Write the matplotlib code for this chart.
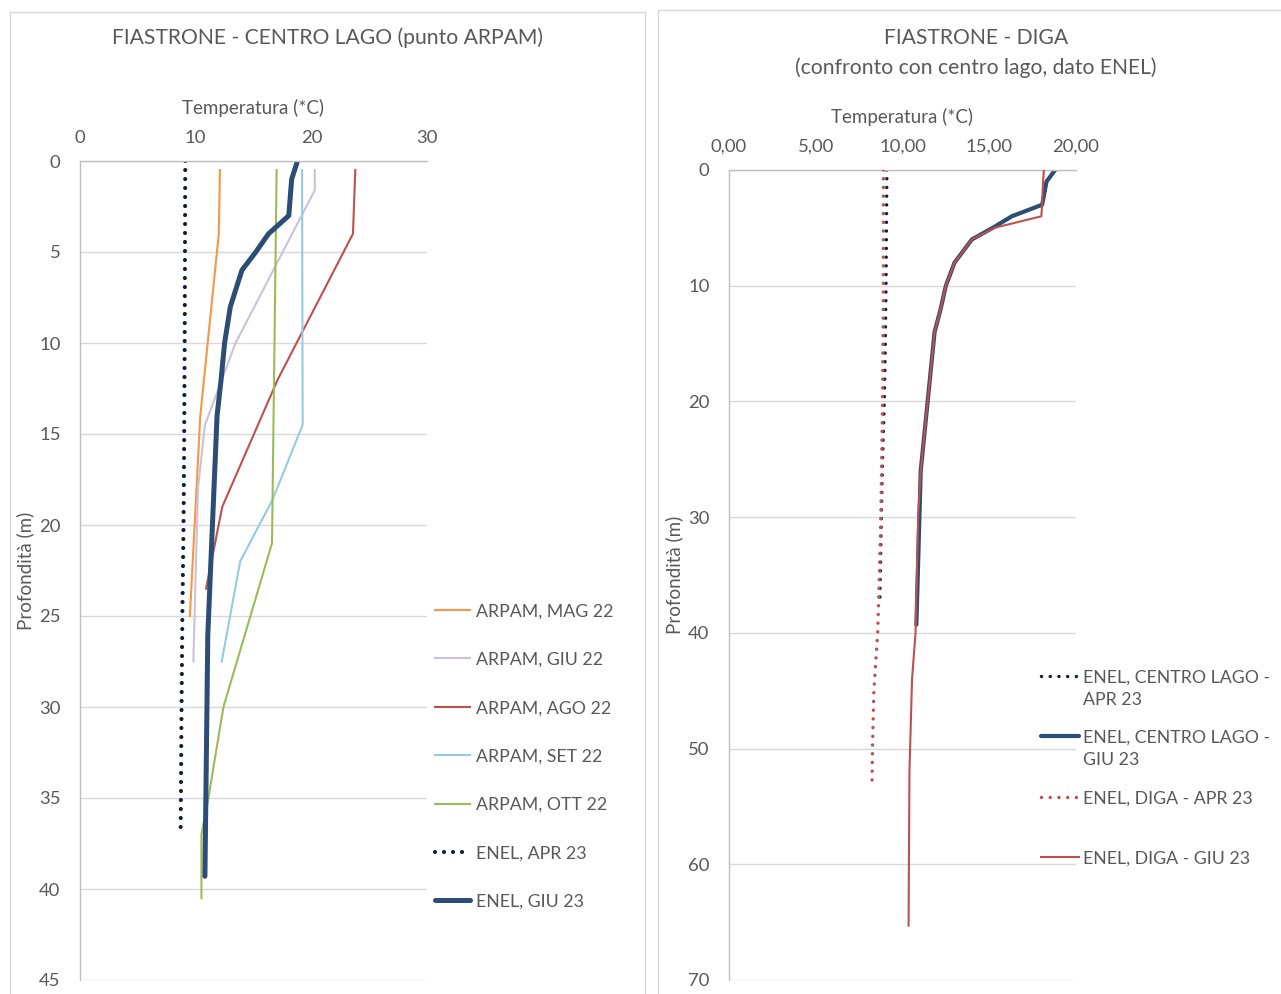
import matplotlib
matplotlib.use("Agg")
import matplotlib.pyplot as plt
from matplotlib.lines import Line2D
from matplotlib.patches import Rectangle

plt.rcParams['font.family'] = ['Lato', 'DejaVu Sans']

# ---------------- data: left panel (ARPAM + ENEL centro lago) ----------------
mag22_depth = [0.5, 4, 14, 25]
mag22_temp = [12.1, 12.0, 10.4, 9.5]

giu22_depth = [0.5, 1.6, 10, 14.5, 18, 27.5]
giu22_temp = [20.3, 20.3, 13.45, 10.8, 10.2, 9.8]

ago22_depth = [0.5, 4, 12, 19, 23.5]
ago22_temp = [23.8, 23.6, 17.1, 12.3, 10.9]

set22_depth = [0.5, 14.5, 18.6, 22, 27.5]
set22_temp = [19.2, 19.25, 16.65, 13.85, 12.25]

ott22_depth = [0.5, 21, 30, 35, 37, 40.5]
ott22_temp = [17.0, 16.6, 12.4, 11.1, 10.5, 10.5]

# ENEL centro lago
cl_apr23_depth = [0, 10, 16, 20, 25, 30, 37]
cl_apr23_temp = [9.1, 9.05, 9.0, 8.95, 8.85, 8.78, 8.7]

cl_giu23_depth = [0, 1, 3, 4, 5, 6, 8, 10, 12, 14, 20, 26, 39.3]
cl_giu23_temp = [18.8, 18.3, 18.05, 16.3, 15.2, 14.0, 13.0, 12.5, 12.2, 11.85, 11.45, 11.05, 10.8]

# ENEL diga
diga_apr23_depth = [0, 10, 20, 30, 37, 40, 45, 50, 53.4]
diga_apr23_temp = [8.9, 8.9, 8.85, 8.75, 8.63, 8.57, 8.35, 8.27, 8.24]

diga_giu23_depth = [0, 1, 3, 4, 5, 6, 8, 10, 12, 14, 20, 26, 30, 40, 44, 52, 65.3]
diga_giu23_temp = [18.15, 18.1, 18.05, 18.0, 15.3, 14.0, 13.0, 12.5, 12.2, 11.85, 11.45, 11.05, 10.9, 10.75, 10.55, 10.4, 10.35]

left_xticks = [0, 10, 20, 30]
left_yticks = [0, 5, 10, 15, 20, 25, 30, 35, 40, 45]
right_xticks = [0, 5, 10, 15, 20]
right_xticklabels = ["0,00", "5,00", "10,00", "15,00", "20,00"]
right_yticks = [0, 10, 20, 30, 40, 50, 60, 70]

left_labels = ["ARPAM, MAG 22", "ARPAM, GIU 22", "ARPAM, AGO 22", "ARPAM, SET 22",
               "ARPAM, OTT 22", "ENEL, APR 23", "ENEL, GIU 23"]
right_labels = ["ENEL, CENTRO LAGO -\nAPR 23", "ENEL, CENTRO LAGO -\nGIU 23",
                "ENEL, DIGA - APR 23", "ENEL, DIGA - GIU 23"]

# ---------------- styles ----------------
C_ORANGE = "#F79646"
C_LAV = "#CCC1DA"
C_RED = "#C0504D"
C_LBLUE = "#93CDDD"
C_GREEN = "#9BBB59"
C_DARK = "#0F203A"
C_NAVY = "#2C4D75"
TXT = "#595959"
GRID = "#D9D9D9"
SPINE = "#BFBFBF"

TICK_FS = 13.3
LAB_FS = 13.5
LEG_FS = 12.8
TITLE_FS = 15.2

W, H = 1281, 994
fig = plt.figure(figsize=(W / 100, H / 100), dpi=100)

def fx(px):
    return px / W

def fy(py):
    return 1 - py / H

# panel borders
fig.add_artist(Rectangle((fx(10), fy(1000)), fx(635), fy(12) - fy(1000), transform=fig.transFigure,
                         fill=False, edgecolor=GRID, lw=1))
fig.add_artist(Rectangle((fx(658), fy(1000)), fx(640), fy(10) - fy(1000), transform=fig.transFigure,
                         fill=False, edgecolor=GRID, lw=1))

def style_axes(ax, xlim, ylim, xticks, yticks, xticklabels=None):
    ax.set_xlim(*xlim)
    ax.set_ylim(*ylim)
    ax.xaxis.tick_top()
    ax.set_xticks(xticks)
    if xticklabels is not None:
        ax.set_xticklabels(xticklabels)
    ax.set_yticks(yticks)
    ax.tick_params(axis='both', length=0, labelsize=TICK_FS, labelcolor=TXT)
    ax.tick_params(axis='x', pad=11)
    ax.tick_params(axis='y', pad=14)
    for s in ['right', 'bottom']:
        ax.spines[s].set_visible(False)
    for s in ['left', 'top']:
        ax.spines[s].set_color(SPINE)
        ax.spines[s].set_linewidth(1)
    ax.grid(axis='y', color=GRID, lw=1)
    ax.set_axisbelow(True)

# ---------------- left panel ----------------
axL = fig.add_axes([fx(80), fy(980), fx(427) - fx(80), fy(161) - fy(980)])
style_axes(axL, (0, 30), (45, 0), left_xticks, left_yticks)

dotL = dict(linestyle=(0, (0.01, 2.15)), dash_capstyle='round')
dotR = dict(linestyle=(0, (0.01, 2.5)), dash_capstyle='round')
lw_thin = 1.5
axL.plot(mag22_temp, mag22_depth, color=C_ORANGE, lw=lw_thin)
axL.plot(giu22_temp, giu22_depth, color=C_LAV, lw=lw_thin)
axL.plot(ago22_temp, ago22_depth, color=C_RED, lw=lw_thin)
axL.plot(set22_temp, set22_depth, color=C_LBLUE, lw=lw_thin)
axL.plot(ott22_temp, ott22_depth, color=C_GREEN, lw=lw_thin)
axL.plot(cl_apr23_temp, cl_apr23_depth, color=C_DARK, lw=3.0, **dotL)
axL.plot(cl_giu23_temp, cl_giu23_depth, color=C_NAVY, lw=3.6, solid_capstyle='round')

fig.text(fx(327), fy(38), "FIASTRONE - CENTRO LAGO (punto ARPAM)", ha='center', va='center',
         fontsize=TITLE_FS, color=TXT)
fig.text(fx(253), fy(108), "Temperatura (*C)", ha='center', va='center', fontsize=LAB_FS, color=TXT)
fig.text(fx(25), fy(571), "Profondità (m)", ha='center', va='center', rotation=90,
         fontsize=LAB_FS, color=TXT)

# left legend
left_styles = [dict(color=C_ORANGE, lw=lw_thin), dict(color=C_LAV, lw=lw_thin),
               dict(color=C_RED, lw=lw_thin), dict(color=C_LBLUE, lw=lw_thin),
               dict(color=C_GREEN, lw=lw_thin), dict(color=C_DARK, lw=3.0, **dotL),
               dict(color=C_NAVY, lw=3.6, solid_capstyle='round')]
for i, (lab, st) in enumerate(zip(left_labels, left_styles)):
    yy = 610 + i * 48.4
    fig.add_artist(Line2D([fx(435), fx(470)], [fy(yy), fy(yy)], transform=fig.transFigure, **st))
    fig.text(fx(476), fy(yy + 1.5), lab, ha='left', va='center', fontsize=LEG_FS, color=TXT)

# ---------------- right panel ----------------
axR = fig.add_axes([fx(729), fy(980), fx(1076) - fx(729), fy(170) - fy(980)])
style_axes(axR, (0, 20), (70, 0), right_xticks, right_yticks, right_xticklabels)
axR.tick_params(axis='x', pad=11)

axR.plot(diga_giu23_temp, diga_giu23_depth, color=C_RED, lw=1.5, zorder=3)
axR.plot(cl_giu23_temp, cl_giu23_depth, color=C_NAVY, lw=3.0, solid_capstyle='round', zorder=2)
axR.plot(cl_apr23_temp, cl_apr23_depth, color=C_DARK, lw=2.5, zorder=2, **dotR)
axR.plot(diga_apr23_temp, diga_apr23_depth, color=C_RED, lw=2.5, zorder=3, **dotR)

fig.text(fx(976), fy(38), "FIASTRONE - DIGA", ha='center', va='center', fontsize=TITLE_FS, color=TXT)
fig.text(fx(976), fy(67.5), "(confronto con centro lago, dato ENEL)", ha='center', va='center',
         fontsize=TITLE_FS, color=TXT)
fig.text(fx(902), fy(117), "Temperatura (*C)", ha='center', va='center', fontsize=LAB_FS, color=TXT)
fig.text(fx(674), fy(575), "Profondità (m)", ha='center', va='center', rotation=90,
         fontsize=LAB_FS, color=TXT)

right_styles = [dict(color=C_DARK, lw=2.5, **dotR),
                dict(color=C_NAVY, lw=3.0, solid_capstyle='round'),
                dict(color=C_RED, lw=2.5, **dotR),
                dict(color=C_RED, lw=1.5)]
right_y = [676, 736, 797, 857]
for lab, st, yy in zip(right_labels, right_styles, right_y):
    fig.add_artist(Line2D([fx(1041), fx(1079)], [fy(yy), fy(yy)], transform=fig.transFigure, **st))
    fig.text(fx(1083), fy(yy - 6.5), lab, ha='left', va='top', fontsize=LEG_FS, color=TXT,
             linespacing=1.5)

fig.savefig("out.png", dpi=100)
